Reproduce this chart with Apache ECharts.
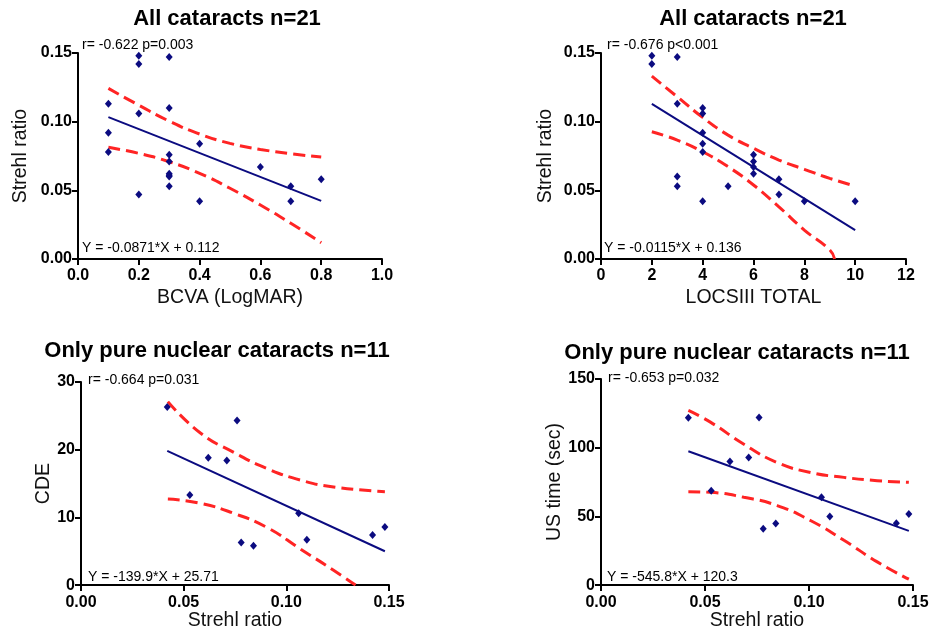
<!DOCTYPE html>
<html>
<head>
<meta charset="utf-8">
<script src="https://cdn.jsdelivr.net/npm/echarts@6/dist/echarts.min.js"></script>
<style>
  html, body { margin: 0; padding: 0; background: #fff; }
  #chart { width: 936px; height: 632px; }
</style>
</head>
<body>
<div id="chart"></div>
<script>
// panel 1: BCVA vs Strehl
const bcva = [0.1, 0.1, 0.1, 0.2, 0.2, 0.2, 0.2, 0.3, 0.3, 0.3, 0.3, 0.3, 0.3, 0.3, 0.3, 0.4, 0.4, 0.6, 0.7, 0.7, 0.8]
const strehlBcva = [0.113, 0.092, 0.078, 0.148, 0.142, 0.106, 0.047, 0.147, 0.110, 0.076, 0.071, 0.062, 0.061, 0.060, 0.053, 0.084, 0.042, 0.067, 0.053, 0.042, 0.058]
const fit1X = [0.1, 0.8]
const fit1Y = [0.1033, 0.0423]
const band1X = [0.1, 0.2, 0.3, 0.4, 0.5, 0.6, 0.7, 0.8]
const band1Up = [0.1242, 0.112, 0.1004, 0.091, 0.0842, 0.0798, 0.0767, 0.0742]
const band1Lo = [0.0813, 0.0769, 0.0708, 0.0624, 0.0515, 0.0393, 0.026, 0.0119]

// panel 2: LOCSIII vs Strehl
const locs = [2, 2, 3, 3, 3, 3, 4, 4, 4, 4, 4, 4, 5, 6, 6, 6, 6, 7, 7, 8, 10]
const strehlLocs = [0.148, 0.142, 0.147, 0.113, 0.060, 0.053, 0.110, 0.106, 0.092, 0.084, 0.078, 0.042, 0.053, 0.076, 0.071, 0.067, 0.062, 0.058, 0.047, 0.042, 0.042]
const fit2X = [2, 10]
const fit2Y = [0.113, 0.021]
const band2UpX = [2, 3, 4, 5, 6, 7, 8, 9, 10]
const band2Up = [0.1332, 0.1181, 0.1031, 0.0902, 0.0806, 0.072, 0.0653, 0.0587, 0.0531]
const band2LoX = [2, 3, 4, 5, 6, 7, 8, 9, 9.19]
const band2Lo = [0.0927, 0.0866, 0.0781, 0.0672, 0.0539, 0.038, 0.0211, 0.0066, 0]

// panels 3 and 4: pure nuclear cataracts
const strehlNuc = [0.042, 0.053, 0.062, 0.071, 0.076, 0.078, 0.084, 0.106, 0.110, 0.142, 0.148]
const cde = [26.3, 13.3, 18.8, 18.4, 24.3, 6.3, 5.8, 10.6, 6.7, 7.4, 8.6]
const usTime = [121.8, 68.7, 90, 92.8, 122, 41, 44.9, 63.9, 49.9, 45.1, 51.8]

const fit3X = [0.042, 0.148]
const fit3Y = [19.83, 5.0]
const band3UpX = [0.0423, 0.058, 0.0744, 0.0907, 0.107, 0.123, 0.148]
const band3Up = [27.1, 22.5, 19.6, 17.2, 15.5, 14.5, 13.8]
const band3LoX = [0.0423, 0.058, 0.0744, 0.0907, 0.107, 0.123, 0.1337]
const band3Lo = [12.7, 12.1, 10.6, 8.5, 5.3, 2.2, 0]

const fit4X = [0.042, 0.148]
const fit4Y = [97.4, 39.5]
const band4X = [0.042, 0.0526, 0.0687, 0.0847, 0.1007, 0.1168, 0.1328, 0.148]
const band4Up = [127.1, 118.6, 102.5, 89.2, 82, 78.4, 76, 74.8]
const band4Lo = [68, 67.5, 63.9, 57.9, 47, 32.6, 16.9, 4.3]

const font = 'Liberation Sans, Arial, sans-serif'
const navy = '#0b0b80'
const red = '#ff2424'

const zip = (xs, ys) => xs.map((x, i) => [x, ys[i]])

let myChart = echarts.init(document.getElementById('chart'))

const panels = [
    {grid: {left: 78, top: 53, width: 304, height: 206},
     x: {min: 0, max: 1, interval: 0.2, dec: 1, name: 'BCVA (LogMAR)', gap: 29},
     y: {min: 0, max: 0.15, interval: 0.05, dec: 2, name: 'Strehl ratio', gap: 47},
     pts: zip(bcva, strehlBcva), fit: zip(fit1X, fit1Y), up: zip(band1X, band1Up), lo: zip(band1X, band1Lo)},
    {grid: {left: 601, top: 53, width: 305, height: 206},
     x: {min: 0, max: 12, interval: 2, dec: 0, name: 'LOCSIII TOTAL', gap: 29},
     y: {min: 0, max: 0.15, interval: 0.05, dec: 2, name: 'Strehl ratio', gap: 45},
     pts: zip(locs, strehlLocs), fit: zip(fit2X, fit2Y), up: zip(band2UpX, band2Up), lo: zip(band2LoX, band2Lo)},
    {grid: {left: 81, top: 382, width: 308, height: 206},
     x: {min: 0, max: 0.15, interval: 0.05, dec: 2, name: 'Strehl ratio', gap: 24},
     y: {min: 0, max: 30, interval: 10, dec: 0, name: 'CDE', gap: 26},
     pts: zip(strehlNuc, cde), fit: zip(fit3X, fit3Y), up: zip(band3UpX, band3Up), lo: zip(band3LoX, band3Lo)},
    {grid: {left: 601, top: 379, width: 312, height: 208},
     x: {min: 0, max: 0.15, interval: 0.05, dec: 2, name: 'Strehl ratio', gap: 25},
     y: {min: 0, max: 150, interval: 50, dec: 0, name: 'US time (sec)', gap: 36},
     pts: zip(strehlNuc, usTime), fit: zip(fit4X, fit4Y), up: zip(band4X, band4Up), lo: zip(band4X, band4Lo)}
]

function axis(a, isX) {
    return {
        type: 'value', min: a.min, max: a.max, interval: a.interval,
        name: a.name, nameLocation: 'middle', nameGap: a.gap,
        nameTextStyle: {fontFamily: font, fontSize: 19.5, color: '#111'},
        axisLine: {show: true, lineStyle: {color: '#000', width: 2}},
        axisTick: {show: true, length: 6, lineStyle: {color: '#000', width: 2}},
        axisLabel: {fontFamily: font, fontSize: 16, fontWeight: 'bold', color: '#000', margin: isX ? 9 : 6,
            formatter: v => v.toFixed(a.dec)},
        splitLine: {show: false}
    }
}

let grids = [], xAxes = [], yAxes = [], series = []
panels.forEach((p, i) => {
    grids.push(p.grid)
    xAxes.push(Object.assign(axis(p.x, true), {gridIndex: i}))
    yAxes.push(Object.assign(axis(p.y, false), {gridIndex: i}))
    series.push({type: 'scatter', xAxisIndex: i, yAxisIndex: i, data: p.pts, symbol: 'diamond',
        symbolSize: [7, 8], itemStyle: {color: navy, opacity: 1}, z: 5})
    series.push({type: 'line', xAxisIndex: i, yAxisIndex: i, data: p.fit, showSymbol: false,
        lineStyle: {color: navy, width: 2}})
    series.push({type: 'line', xAxisIndex: i, yAxisIndex: i, data: p.up, showSymbol: false, smooth: true,
        lineStyle: {color: red, width: 3, type: [12, 6]}})
    series.push({type: 'line', xAxisIndex: i, yAxisIndex: i, data: p.lo, showSymbol: false, smooth: true,
        lineStyle: {color: red, width: 3, type: [12, 6]}})
})

const texts = [
    ['All cataracts n=21', 227, 19, 'bold 22px', 'center'],
    ['All cataracts n=21', 753, 19, 'bold 22px', 'center'],
    ['Only pure nuclear cataracts n=11', 217, 351, 'bold 22px', 'center'],
    ['Only pure nuclear cataracts n=11', 737, 353, 'bold 22px', 'center'],
    ['r= -0.622 p=0.003', 82, 45, '14px', 'left'],
    ['Y = -0.0871*X + 0.112', 82, 248, '14px', 'left'],
    ['r= -0.676 p<0.001', 607, 45, '14px', 'left'],
    ['Y = -0.0115*X + 0.136', 604, 248, '14px', 'left'],
    ['r= -0.664 p=0.031', 88, 380, '14px', 'left'],
    ['Y = -139.9*X + 25.71', 88, 577, '14px', 'left'],
    ['r= -0.653 p=0.032', 608, 378, '14px', 'left'],
    ['Y = -545.8*X + 120.3', 607, 577, '14px', 'left']
]

let option = {
    animation: false,
    backgroundColor: '#fff',
    grid: grids,
    xAxis: xAxes,
    yAxis: yAxes,
    series: series,
    graphic: texts.map(t => ({
        type: 'text', x: t[1], y: t[2], z: 10,
        style: {text: t[0], font: t[3] + ' ' + font, fill: '#000', align: t[4], verticalAlign: 'middle'}
    }))
}
myChart.setOption(option)
</script>
</body>
</html>
